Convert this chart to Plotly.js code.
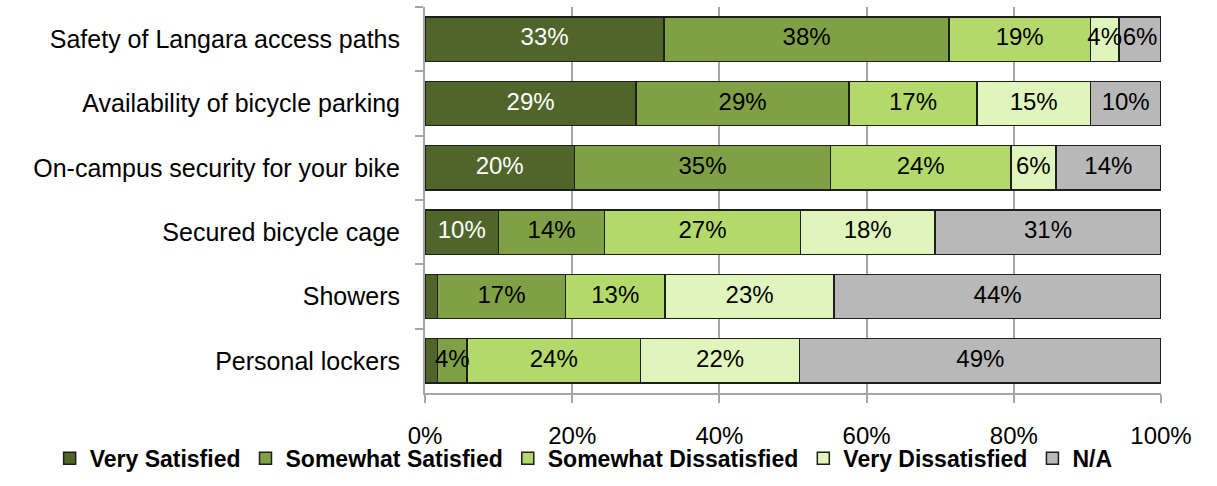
<!DOCTYPE html>
<html>
<head>
<meta charset="utf-8">
<script src="https://cdn.plot.ly/plotly-3.0.1.min.js"></script>
<style>html,body{margin:0;padding:0;background:#fff;}#chart{width:1217px;height:486px;}</style>
</head>
<body>
<div id="chart"></div>
<script>
// Categories listed top to bottom
const categories = [
  "Safety of Langara access paths",
  "Availability of bicycle parking",
  "On-campus security for your bike",
  "Secured bicycle cage",
  "Showers",
  "Personal lockers"
];
const seriesNames = ["Very Satisfied", "Somewhat Satisfied", "Somewhat Dissatisfied", "Very Dissatisfied", "N/A"];

const verySatisfied         = [32.5, 28.7, 20.3, 10.0, 1.7, 1.7];
const somewhatSatisfied     = [38.7, 28.9, 34.8, 14.4, 17.4, 4.0];
const somewhatDissatisfied  = [19.2, 17.4, 24.5, 26.6, 13.5, 23.6];
const veryDissatisfied      = [3.9, 15.4, 6.1, 18.3, 23.0, 21.6];
const notApplicable         = [5.7, 9.6, 14.3, 30.7, 44.4, 49.1];

const labelsVerySatisfied        = ["33%", "29%", "20%", "10%", "", ""];
const labelsSomewhatSatisfied    = ["38%", "29%", "35%", "14%", "17%", "4%"];
const labelsSomewhatDissatisfied = ["19%", "17%", "24%", "27%", "13%", "24%"];
const labelsVeryDissatisfied     = ["4%", "15%", "6%", "18%", "23%", "22%"];
const labelsNotApplicable        = ["6%", "10%", "14%", "31%", "44%", "49%"];

const xTickVals = [0, 20, 40, 60, 80, 100];
const xTickText = ["0%", "20%", "40%", "60%", "80%", "100%"];

const values = [verySatisfied, somewhatSatisfied, somewhatDissatisfied, veryDissatisfied, notApplicable];
const labels = [labelsVerySatisfied, labelsSomewhatSatisfied, labelsSomewhatDissatisfied, labelsVeryDissatisfied, labelsNotApplicable];
const colors = ["#50652a", "#80a045", "#b3d96a", "#e0f5bc", "#b8b8b8"];
const textColors = ["#ffffff", "#000000", "#000000", "#000000", "#000000"];

const FONT = "Liberation Sans, Arial, sans-serif";

const barTraces = seriesNames.map((name, i) => ({
  type: "bar",
  orientation: "h",
  name: name,
  y: categories,
  x: values[i],
  textposition: "none",
  marker: {color: colors[i], line: {color: "#1e1e1e", width: 1.5}},
  hoverinfo: "skip"
}));

// Label traces: centred on each segment, positions derived from the data
const cumulative = categories.map(() => 0);
const labelTraces = seriesNames.map((name, i) => {
  const mids = values[i].map((v, j) => {
    const m = cumulative[j] + v / 2;
    cumulative[j] += v;
    return m;
  });
  return {
    type: "scatter",
    mode: "text",
    x: mids,
    y: categories,
    text: labels[i],
    textposition: "middle center",
    textfont: {family: FONT, size: 24, color: textColors[i]},
    cliponaxis: false,
    showlegend: false,
    hoverinfo: "skip"
  };
});

const layout = {
  width: 1217,
  height: 486,
  barmode: "stack",
  bargap: 0.31,
  paper_bgcolor: "#ffffff",
  plot_bgcolor: "#ffffff",
  margin: {l: 425, r: 56, t: 7, b: 92},
  font: {family: FONT, color: "#000"},
  showlegend: true,
  legend: {
    orientation: "h",
    xref: "paper", yref: "paper",
    x: -0.51, xanchor: "left",
    y: -0.166, yanchor: "middle",
    font: {family: FONT, size: 23, color: "#000", weight: "bold"},
    itemwidth: 30,
    bgcolor: "rgba(0,0,0,0)",
    traceorder: "normal"
  },
  xaxis: {
    range: [0, 100],
    tickvals: xTickVals,
    ticktext: xTickText,
    showgrid: true,
    gridcolor: "#a6a6a6",
    gridwidth: 2,
    zeroline: false,
    showline: true,
    linecolor: "#a6a6a6",
    linewidth: 2,
    ticks: "outside",
    ticklen: 8,
    tickwidth: 2,
    tickcolor: "#a6a6a6",
    ticklabelstandoff: 12,
    tickfont: {family: FONT, size: 24, color: "#000"},
    fixedrange: true
  },
  yaxis: {
    type: "category",
    autorange: "reversed",
    showgrid: false,
    zeroline: false,
    showline: true,
    linecolor: "#a6a6a6",
    linewidth: 2,
    ticks: "outside",
    tickson: "boundaries",
    ticklen: 8,
    tickwidth: 2,
    tickcolor: "#a6a6a6",
    ticklabelstandoff: 18,
    tickfont: {family: FONT, size: 25, color: "#000"},
    fixedrange: true
  }
};

Plotly.newPlot("chart", barTraces.concat(labelTraces), layout, {displayModeBar: false, staticPlot: true});
</script>
</body>
</html>
